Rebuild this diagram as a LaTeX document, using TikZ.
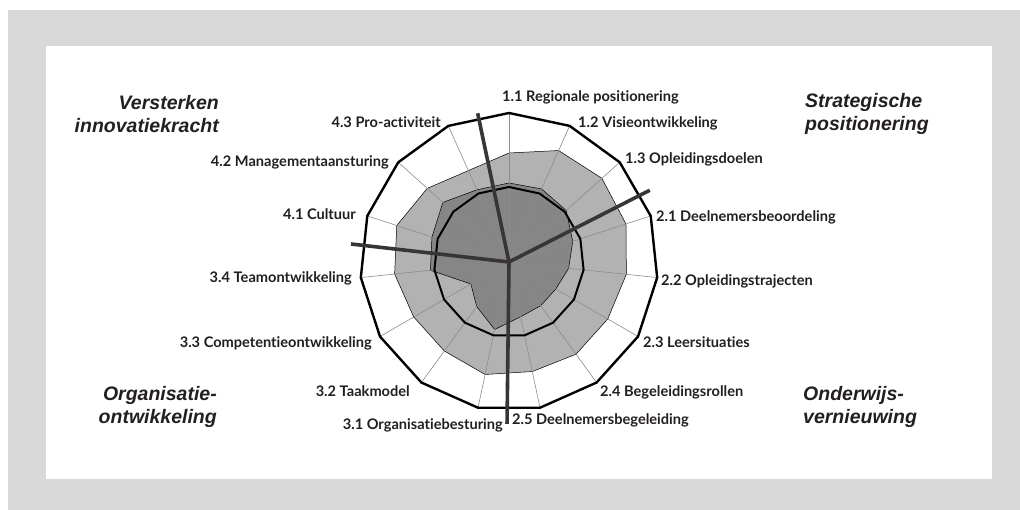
\documentclass[tikz,border=0pt]{standalone}
\usepackage{fontspec}
\setmainfont{Lato}[Ligatures=NoCommon]
\newfontfamily\titlefont{Liberation Sans}
\usetikzlibrary{calc}

\begin{document}
\begin{tikzpicture}[x=1pt,y=1pt]
  \tikzset{
    axislabel/.style={font=\bfseries\fontsize{14.6}{16}\selectfont,text=inkgray,inner sep=0pt},
    areatitle/.style={font=\titlefont\bfseries\itshape\fontsize{19.5}{23}\selectfont,text=inkgray,inner sep=0pt},
    spoke/.style={draw=black!45,line width=0.6pt},
    divider/.style={draw=inkgray!90,line width=3.6pt},
  }
  \definecolor{framegray}{RGB}{217,217,217}
  \definecolor{bandgray}{RGB}{178,178,178}
  \definecolor{scoregray}{RGB}{134,134,134}
  \definecolor{inkgray}{RGB}{35,31,32}
  \useasboundingbox (0,0) rectangle (1020,510);
  \fill[framegray] (8,0) rectangle (1020,500);
  \fill[white] (46,31) rectangle (992,464);
  \begin{scope}[shift={(509,248)}]
    \coordinate (c) at (0,0);
    % norm band and score polygon
    \foreach \r [count=\i] in {109,122,125,123,118,114,114,112,115,110,110,115,118,110,100}
      \coordinate (n\i) at ({114-24*\i}:\r);
    \foreach \r [count=\i] in {79,80,77,67,60,54,54,56,69,55,44,79,81,89,79}
      \coordinate (p\i) at ({114-24*\i}:\r);
    \draw[fill=bandgray,line width=0.5pt] (n1) \foreach \i in {2,...,15} { -- (n\i) } -- cycle;
    \draw[fill=scoregray,line width=0.5pt] (p1) \foreach \i in {2,...,15} { -- (p\i) } -- cycle;
    \foreach \i in {1,...,15} {
      \coordinate (o\i) at ({114-24*\i}:149);
      \draw[spoke] (c) -- (o\i);
    }
    \draw[line width=2pt] (90:75) \foreach \i in {1,...,14} { -- ({90-24*\i}:75) } -- cycle;
    \draw[line width=2.4pt,line join=miter] (o1) \foreach \i in {2,...,15} { -- (o\i) } -- cycle;
    % dividers between the four areas
    \coordinate (d1) at (101.9:152);
    \coordinate (d2) at (27:158);
    \coordinate (d3) at (173.5:159);
    \coordinate (d4) at (269.3:162);
    \foreach \d in {d1,d2,d3,d4} {
      \draw[divider] (c) -- (\d);
    }
  \end{scope}
  % axis labels
  \node[axislabel,anchor=west] (l11) at (502,413) {1.1 Regionale positionering};
  \node[axislabel,anchor=west] (l12) at (578,387) {1.2 Visieontwikkeling};
  \node[axislabel,anchor=west] (l13) at (625,351) {1.3 Opleidingsdoelen};
  \node[axislabel,anchor=west] (l21) at (656,293) {2.1 Deelnemersbeoordeling};
  \node[axislabel,anchor=west] (l22) at (661,229) {2.2 Opleidingstrajecten};
  \node[axislabel,anchor=west] (l23) at (643,168) {2.3 Leersituaties};
  \node[axislabel,anchor=west] (l24) at (600,118) {2.4 Begeleidingsrollen};
  \node[axislabel,anchor=west] (l25) at (512,90) {2.5 Deelnemersbegeleiding};
  \node[axislabel,anchor=east] (l31) at (503,85) {3.1 Organisatiebesturing};
  \node[axislabel,anchor=east] (l32) at (410,119) {3.2 Taakmodel};
  \node[axislabel,anchor=east] (l33) at (372,167) {3.3 Competentieontwikkeling};
  \node[axislabel,anchor=east] (l34) at (352,232) {3.4 Teamontwikkeling};
  \node[axislabel,anchor=east] (l41) at (356,296) {4.1 Cultuur};
  \node[axislabel,anchor=east] (l42) at (389,348) {4.2 Managementaansturing};
  \node[axislabel,anchor=east] (l43) at (441,388) {4.3 Pro-activiteit};
  % area titles
  \node[areatitle,anchor=east,align=right] (t4) at (219,396) {Versterken\\innovatiekracht};
  \node[areatitle,anchor=west,align=left] (t1) at (805,396) {Strategische\\positionering};
  \node[areatitle,anchor=east,align=right] (t3) at (217,103) {Organisatie-\\ontwikkeling};
  \node[areatitle,anchor=west,align=left] (t2) at (803,103) {Onderwijs-\\vernieuwing};
\end{tikzpicture}
\end{document}
